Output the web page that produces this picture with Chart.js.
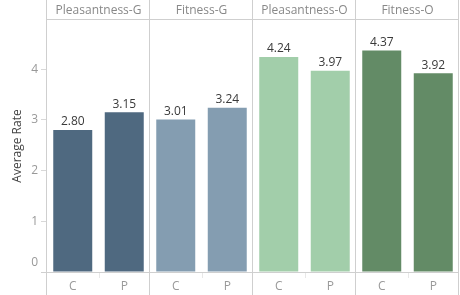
<!DOCTYPE html>
<html><head><meta charset="utf-8">
<script src="https://cdn.jsdelivr.net/npm/chart.js@4/dist/chart.umd.min.js"></script>
<style>html,body{margin:0;padding:0;background:#fff}#wrap{width:460px;height:295px;position:relative}</style>
</head><body><div id="wrap"><canvas id="c"></canvas></div>
<script>
const groups = ["Pleasantness-G", "Fitness-G", "Pleasantness-O", "Fitness-O"];
const conditions = ["C", "P"];
const values = [2.80, 3.15, 3.01, 3.24, 4.24, 3.97, 4.37, 3.92];
const groupColors = ["#4f6980", "#849db1", "#a2ceaa", "#638b66"];
const yTicks = [0, 1, 2, 3, 4];
const yMax = 4.97;

const labels = [];
const colors = [];
groups.forEach((g, gi) => conditions.forEach(c => { labels.push(c); colors.push(groupColors[gi]); }));

const FONT = "'Open Sans', Lato, sans-serif";
const LINE = "#cfcfcf";

const decor = {
  id: 'decor',
  beforeDatasetsDraw(chart) {
    const {ctx, chartArea: a, scales: {x, y}} = chart;
    const H = chart.height;
    const base = y.getPixelForValue(0);
    ctx.save();
    ctx.lineWidth = 1;
    ctx.strokeStyle = "#e8e8e8";
    for (let g = 0; g < groups.length; g++) {
      const px = Math.round((x.getPixelForValue(g * 2) + x.getPixelForValue(g * 2 + 1)) / 2) + 0.5;
      ctx.beginPath(); ctx.moveTo(px, base); ctx.lineTo(px, base + 6); ctx.stroke();
    }
    ctx.strokeStyle = LINE;
    const w = (a.right - a.left) / groups.length;
    for (let k = 0; k <= groups.length; k++) {
      const px = Math.round(a.left + k * w) - 0.5;
      ctx.beginPath(); ctx.moveTo(px, 0); ctx.lineTo(px, H); ctx.stroke();
    }
    ctx.beginPath(); ctx.moveTo(a.left, Math.round(a.top) - 0.5); ctx.lineTo(a.right, Math.round(a.top) - 0.5); ctx.stroke();
    ctx.beginPath(); ctx.moveTo(a.left - 6, Math.round(base) + 0.5); ctx.lineTo(a.right, Math.round(base) + 0.5); ctx.stroke();
    ctx.fillStyle = "#999999";
    ctx.font = "12px " + FONT;
    ctx.textAlign = "right"; ctx.textBaseline = "middle";
    ctx.fillText("0", a.left - 9, base - 9);
    ctx.restore();
  },
  afterDatasetsDraw(chart) {
    const {ctx} = chart;
    const meta = chart.getDatasetMeta(0);
    ctx.save();
    ctx.fillStyle = "#3a3a3a";
    ctx.font = "12px " + FONT;
    ctx.textAlign = "center"; ctx.textBaseline = "bottom";
    meta.data.forEach((bar, i) => {
      ctx.fillText(values[i].toFixed(2), bar.x, bar.y - 2);
    });
    ctx.restore();
  }
};

new Chart(document.getElementById('c'), {
  type: 'bar',
  data: {
    labels: labels,
    datasets: [{
      data: values,
      backgroundColor: colors,
      borderWidth: 0,
      categoryPercentage: 1,
      barPercentage: 0.757
    }]
  },
  options: {
    responsive: true,
    maintainAspectRatio: false,
    animation: false,
    layout: {padding: {left: 0, right: 1, top: 0, bottom: 0}},
    plugins: {legend: {display: false}, tooltip: {enabled: false}},
    scales: {
      x: {
        type: 'category',
        position: 'bottom',
        grid: {display: false, drawTicks: false},
        border: {display: false},
        ticks: {color: "#999999", font: {family: FONT, size: 12}, padding: 7, maxRotation: 0},
        afterFit(s) { s.height = 23; }
      },
      x2: {
        type: 'category',
        position: 'top',
        labels: groups,
        grid: {display: false, drawTicks: false},
        border: {display: false},
        ticks: {color: "#888888", font: {family: FONT, size: 12}, padding: 2, maxRotation: 0},
        afterFit(s) { s.height = 20; }
      },
      y: {
        min: 0, max: yMax,
        afterBuildTicks(s) { s.ticks = yTicks.map(v => ({value: v})); },
        grid: {drawOnChartArea: false, tickLength: 6, color: "#d8d8d8"},
        border: {display: false},
        ticks: {color: "#999999", font: {family: FONT, size: 12}, padding: 3,
                callback: v => v === 0 ? '' : String(v)},
        title: {display: true, text: "Average Rate", color: "#444444",
                font: {family: FONT, size: 12}, padding: {top: 10, bottom: 0}},
        afterFit(s) { s.width = 47; }
      }
    }
  },
  plugins: [decor]
});
</script></body></html>
